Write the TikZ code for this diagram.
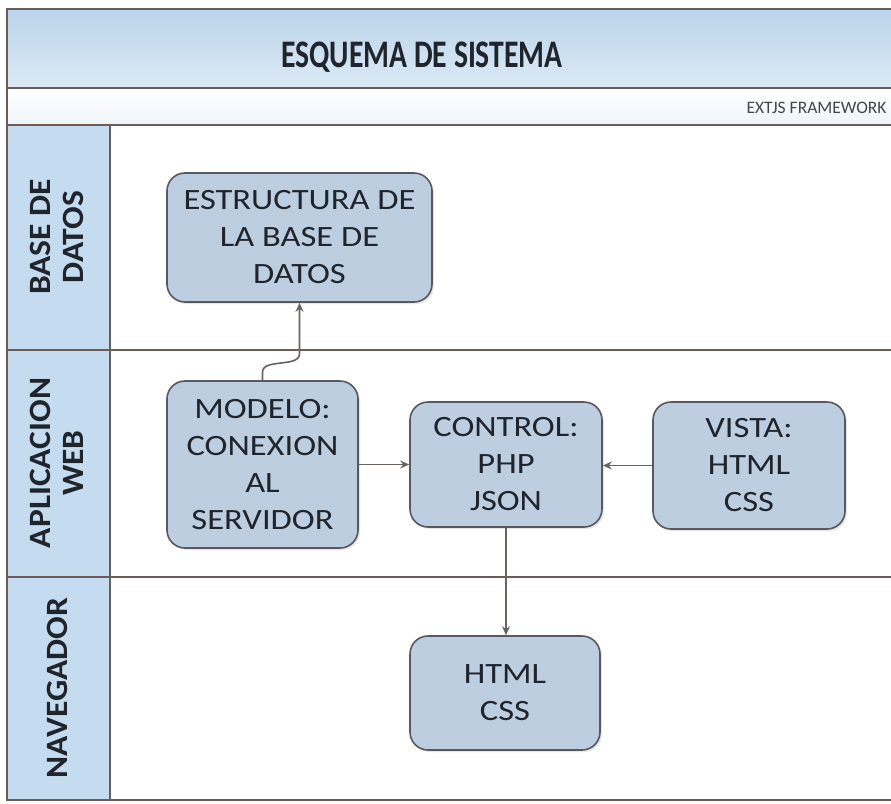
\documentclass[tikz,border=0pt]{standalone}
\usepackage{fontspec}
\setmainfont{Carlito}
\newfontfamily\boxfont{Carlito}[FakeStretch=1.17]
\newfontfamily\titlefont{Carlito}[FakeStretch=0.76]
\newfontfamily\lanefont{Carlito}[FakeStretch=1.08]
\usetikzlibrary{calc, positioning, shadows, arrows.meta}

\definecolor{framegray}{RGB}{107,92,88}
\definecolor{boxblue}{RGB}{188,206,224}
\definecolor{boxline}{RGB}{88,88,94}
\definecolor{laneblue}{RGB}{197,220,240}
\definecolor{titleblue}{RGB}{186,212,235}
\definecolor{arrowgray}{RGB}{105,98,95}
\definecolor{textdark}{RGB}{32,36,44}

\begin{document}
\begin{tikzpicture}[x=1pt, y=-1pt,
    frame/.style={draw=framegray, line width=2.6pt},
    proc/.style={draw=boxline, line width=1.6pt, fill=boxblue, rounded corners=18pt,
        inner sep=0pt, align=center, text=textdark,
        drop shadow={opacity=0.2, shadow xshift=2pt, shadow yshift=-2pt},
        font=\boxfont\fontsize{29.5}{37}\selectfont},
    lanelabel/.style={rotate=90, align=center, text=textdark,
        font=\lanefont\bfseries\fontsize{31}{33}\selectfont},
    flow/.style={draw=arrowgray, line width=1.6pt, -{Stealth[length=9pt, width=8pt]}}]

\useasboundingbox (0,0) rectangle (891,803);
\clip (0,0) rectangle (891,803);

% Bands and lane column
\shade[top color=titleblue, bottom color=titleblue!50!white] (7,9) rectangle (895,88);
\shade[top color=white, bottom color=laneblue!30!white] (7,88) rectangle (895,125);
\fill[laneblue] (7,125) rectangle (110,800);

% Frame lines
\foreach \y in {88,125,350,577}
{
    \draw[frame] (7,\y) -- (895,\y);
}
\draw[frame] (110,125) -- (110,800);
\draw[frame] (7,9) rectangle (895,800);

% Headings
\node[anchor=base, text=textdark, font=\titlefont\bfseries\fontsize{39}{41}\selectfont] (title) at (422,67) {ESQUEMA DE SISTEMA};
\node[anchor=base east, text=textdark!85, font=\fontsize{17.5}{19}\selectfont] (extjs) at (890,113) {EXTJS FRAMEWORK};

% Lane labels
\node[lanelabel] (lanebd) at (57,237) {BASE DE\\DATOS};
\node[lanelabel] (laneweb) at (57,463) {APLICACION\\WEB};
\node[lanelabel] (lanenav) at (57,688) {NAVEGADOR};

% Boxes
\node[proc, minimum width=265pt, minimum height=129pt] (estructura) at (299.5,237.5) {ESTRUCTURA DE\\LA BASE DE\\DATOS};
\node[proc, minimum width=191pt, minimum height=167pt] (modelo) at (262.5,464.5) {MODELO:\\CONEXION\\AL\\SERVIDOR};
\node[proc, minimum width=192pt, minimum height=125pt] (control) at (506,464.5) {CONTROL:\\PHP\\JSON};
\node[proc, minimum width=192pt, minimum height=127pt] (vista) at (749,465.5) {VISTA:\\HTML\\CSS};
\node[proc, minimum width=190pt, minimum height=114pt] (navhtml) at (505,693) {HTML\\CSS};

% Connectors
\coordinate (jog) at ($(estructura.south)+(0,51)$);
\draw[flow] (modelo.north) -- ++(0,-8) .. controls +(0,-14) and +(0,14) .. (jog) -- (estructura.south);
\draw[flow] (modelo.east) -- (control.west);
\draw[flow] (vista.west) -- (vista.west -| control.east);
\draw[flow] (control.south) -- (control.south |- navhtml.north);

\end{tikzpicture}
\end{document}
